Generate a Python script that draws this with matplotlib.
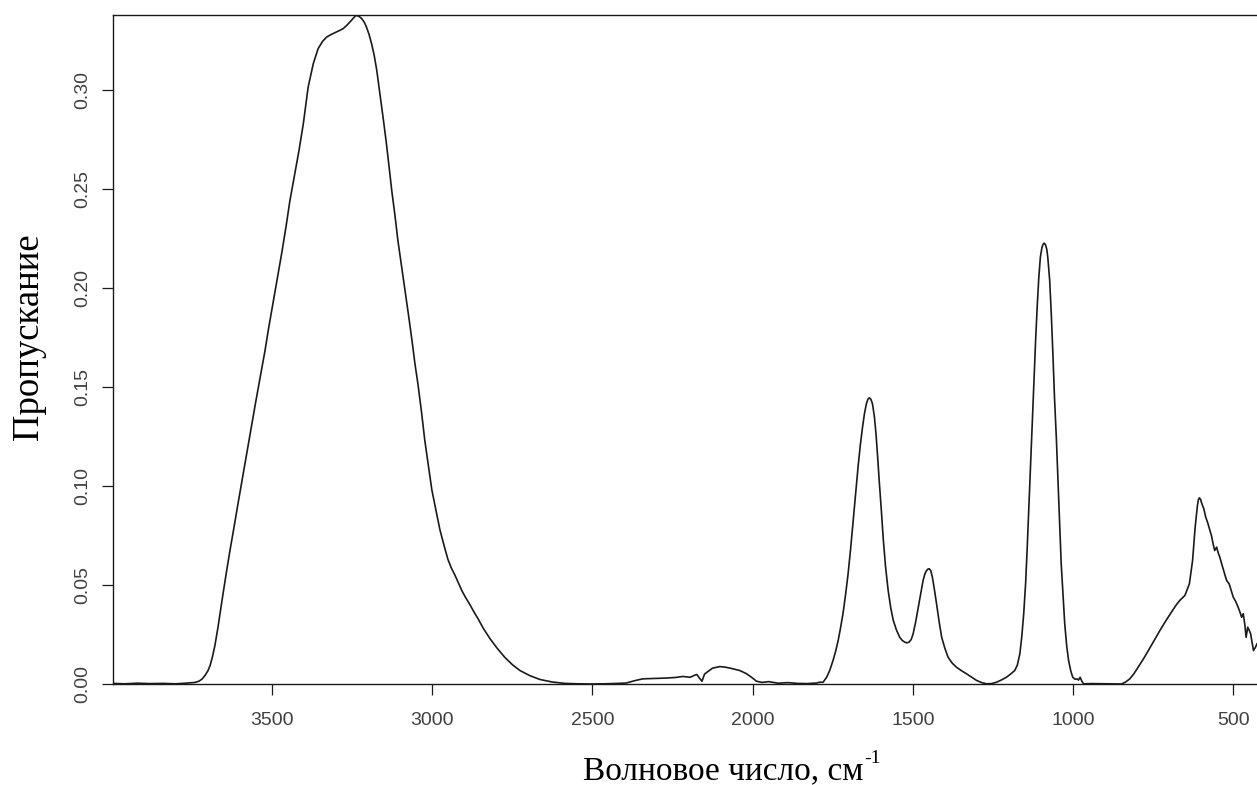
import numpy as np
import matplotlib
matplotlib.use('Agg')
import matplotlib.pyplot as plt

# IR spectrum, read in four pieces (wavenumber in cm-1, descending)
oh_wn = [3996, 3960, 3920, 3880, 3840, 3800, 3770, 3740, 3728, 3718, 3709, 3700,
         3693, 3686, 3678, 3668, 3656, 3644, 3631, 3618, 3606, 3592, 3578, 3564,
         3550, 3536, 3522, 3510, 3497, 3483, 3469, 3456, 3444, 3430, 3416, 3402,
         3387, 3371, 3356, 3342, 3329, 3316, 3303, 3290, 3278, 3267, 3257, 3247,
         3238, 3229, 3220, 3212, 3205, 3197, 3189, 3181, 3173, 3163, 3152, 3144,
         3135, 3126, 3116, 3107, 3096, 3085, 3074, 3063, 3054, 3044, 3033, 3023,
         3012, 3001, 2988, 2976, 2963, 2951, 2940, 2929, 2918, 2907, 2895, 2882,
         2870, 2857, 2840, 2820, 2797, 2773, 2750, 2726, 2695, 2664, 2625, 2586,
         2546, 2508]
oh_val = [0.0003, 0.0001, 0.0004, 0.0002, 0.0003, 0.0001, 0.0004, 0.0008, 0.0014,
          0.0025, 0.0043, 0.0066, 0.0093, 0.0135, 0.0194, 0.0290, 0.0420, 0.0545,
          0.0674, 0.0795, 0.0910, 0.1040, 0.1170, 0.1300, 0.1430, 0.1555, 0.1680,
          0.1800, 0.1920, 0.2050, 0.2180, 0.2310, 0.2440, 0.2565, 0.2690, 0.2830,
          0.3014, 0.3132, 0.3208, 0.3245, 0.3267, 0.3279, 0.3289, 0.3299, 0.3309,
          0.3325, 0.3342, 0.3360, 0.3376, 0.3372, 0.3360, 0.3342, 0.3317, 0.3280,
          0.3233, 0.3175, 0.3100, 0.2980, 0.2846, 0.2745, 0.2620, 0.2490, 0.2365,
          0.2240, 0.2115, 0.1990, 0.1865, 0.1735, 0.1620, 0.1510, 0.1370, 0.1230,
          0.1105, 0.0980, 0.0875, 0.0780, 0.0700, 0.0630, 0.0585, 0.0550, 0.0510,
          0.0470, 0.0435, 0.0400, 0.0365, 0.0330, 0.0280, 0.0230, 0.0180, 0.0134,
          0.0098, 0.0068, 0.0042, 0.0023, 0.0010, 0.0003, 0.0001, 0.0]

mid_wn = [2460, 2420, 2394, 2370, 2343, 2310, 2270, 2240, 2218, 2195, 2180, 2174,
          2166, 2158, 2150, 2142, 2125, 2102, 2085, 2062, 2040, 2019, 2000, 1988,
          1970, 1950, 1920, 1890, 1860, 1830, 1800, 1790]
mid_val = [0.0001, 0.0003, 0.0005, 0.0016, 0.0026, 0.0028, 0.0030, 0.0033, 0.0038,
           0.0034, 0.0045, 0.0048, 0.0030, 0.0014, 0.0050, 0.0060, 0.0080, 0.0088,
           0.0085, 0.0077, 0.0068, 0.0052, 0.0030, 0.0014, 0.0008, 0.0012, 0.0004,
           0.0007, 0.0003, 0.0002, 0.0005, 0.0009]

fp_wn = [1780, 1769, 1759, 1749, 1741, 1733, 1726, 1718, 1710, 1702, 1694, 1686,
         1678, 1671, 1664, 1657, 1651, 1645, 1640, 1636, 1631, 1626, 1620, 1615,
         1610, 1605, 1598, 1592, 1585, 1577, 1569, 1561, 1551, 1541, 1533, 1525,
         1518, 1512, 1505, 1499, 1491, 1483, 1475, 1468, 1462, 1457, 1453, 1449,
         1444, 1439, 1433, 1426, 1418, 1410, 1400, 1390, 1377, 1364, 1349, 1333,
         1317, 1301, 1285, 1270, 1254, 1239, 1224, 1208, 1195, 1182, 1174, 1166,
         1160, 1154, 1148, 1143, 1138, 1133, 1127, 1122, 1117, 1112, 1107, 1102,
         1097, 1093, 1090, 1086, 1082, 1079, 1073, 1068, 1063, 1058, 1052, 1047,
         1042, 1037, 1031, 1026, 1020, 1014, 1007, 1001, 994, 988, 983, 978, 972,
         967]
fp_val = [0.0009, 0.0034, 0.0070, 0.0119, 0.0165, 0.0220, 0.0280, 0.0355, 0.0450,
          0.0557, 0.0685, 0.0826, 0.0965, 0.1095, 0.1205, 0.1297, 0.1365, 0.1415,
          0.1438, 0.1445, 0.1438, 0.1415, 0.1350, 0.1264, 0.1150, 0.1028, 0.0870,
          0.0725, 0.0590, 0.0472, 0.0385, 0.0321, 0.0272, 0.0236, 0.0220, 0.0211,
          0.0208, 0.0211, 0.0225, 0.0254, 0.0315, 0.0388, 0.0460, 0.0523, 0.0558,
          0.0573, 0.0580, 0.0582, 0.0572, 0.0539, 0.0480, 0.0405, 0.0315, 0.0236,
          0.0180, 0.0135, 0.0105, 0.0085, 0.0068, 0.0052, 0.0035, 0.0018, 0.0007,
          0.0001, 0.0002, 0.0009, 0.0020, 0.0034, 0.0050, 0.0068, 0.0095, 0.0153,
          0.0240, 0.0355, 0.0510, 0.0691, 0.0895, 0.1110, 0.1330, 0.1533, 0.1730,
          0.1903, 0.2050, 0.2156, 0.2205, 0.2222, 0.2226, 0.2218, 0.2195, 0.2156,
          0.2040, 0.1870, 0.1670, 0.1449, 0.1235, 0.1028, 0.0815, 0.0607, 0.0440,
          0.0304, 0.0195, 0.0119, 0.0065, 0.0034, 0.0024, 0.0026, 0.0020, 0.0034,
          0.0012, 0.0001]

low_wn = [940, 900, 849, 836, 823, 810, 797, 781, 765, 747, 729, 711, 693, 680,
          667, 651, 637, 627, 619, 612, 609, 606, 602, 598, 592, 586, 580, 573,
          568, 563, 558, 552, 547, 542, 535, 527, 521, 513, 506, 500, 492, 485,
          479, 474, 469, 464, 460, 455, 450, 446, 441, 437, 431, 426]
low_val = [0.0002, 0.0001, 0.0, 0.0010, 0.0026, 0.0052, 0.0085, 0.0125, 0.0169,
           0.0220, 0.0270, 0.0318, 0.0363, 0.0395, 0.0422, 0.0447, 0.0506, 0.0624,
           0.0792, 0.0900, 0.0930, 0.0940, 0.0932, 0.0910, 0.0885, 0.0842, 0.0815,
           0.0775, 0.0748, 0.0708, 0.0674, 0.0691, 0.0662, 0.0640, 0.0600, 0.0557,
           0.0523, 0.0506, 0.0470, 0.0438, 0.0415, 0.0388, 0.0362, 0.0337, 0.0355,
           0.0300, 0.0236, 0.0287, 0.0270, 0.0254, 0.0205, 0.0169, 0.0185, 0.0203]

x_ticks = [3500, 3000, 2500, 2000, 1500, 1000, 500]
y_ticks = [0.00, 0.05, 0.10, 0.15, 0.20, 0.25, 0.30]

wn = np.concatenate([oh_wn, mid_wn, fp_wn, low_wn])
val = np.concatenate([oh_val, mid_val, fp_val, low_val])

fig = plt.figure(figsize=(12.57, 7.85), dpi=100)
ax = fig.add_axes([113 / 1257, 101 / 785, 1 - 113 / 1257, 669 / 785])

ax.plot(wn, val, color='#1a1a1a', linewidth=1.2)

ax.set_xlim(3996, 426)
ax.set_ylim(0, 0.3378)
ax.set_xticks(x_ticks)
ax.set_xticklabels([str(t) for t in x_ticks])
ax.set_yticks(y_ticks)
ax.set_yticklabels([f'{t:.2f}' for t in y_ticks])

for side in ['left', 'bottom', 'top']:
    ax.spines[side].set_linewidth(1.0)
    ax.spines[side].set_color('#1a1a1a')
ax.spines['right'].set_visible(False)

ax.tick_params(axis='both', direction='out', length=8, width=0.9,
               color='#1a1a1a', labelcolor='#404040')
ax.tick_params(axis='x', pad=12)
ax.tick_params(axis='y', pad=8)
for lab in ax.get_xticklabels():
    lab.set_fontfamily('Liberation Sans')
    lab.set_fontsize(14)
for lab in ax.get_yticklabels():
    lab.set_fontfamily('Liberation Sans')
    lab.set_fontsize(14)
    lab.set_rotation(90)
    lab.set_va('center')

# axis titles in serif, with a raised "-1" after the x title
xt = fig.text(583 / 1257, 1 - 779 / 785, 'Волновое число, см', family='Liberation Serif',
              fontsize=24, ha='left', va='baseline')
fig.canvas.draw()
bb = xt.get_window_extent()
fig.text((bb.x1 + 1) / 1257, 1 - 763 / 785, '-1', family='Liberation Serif',
         fontsize=14, ha='left', va='baseline')
fig.text(29 / 1257, 1 - 337 / 785, 'Пропускание', family='Liberation Serif',
         fontsize=26.5, rotation=90, ha='center', va='center')

fig.savefig('out.png', dpi=100)
